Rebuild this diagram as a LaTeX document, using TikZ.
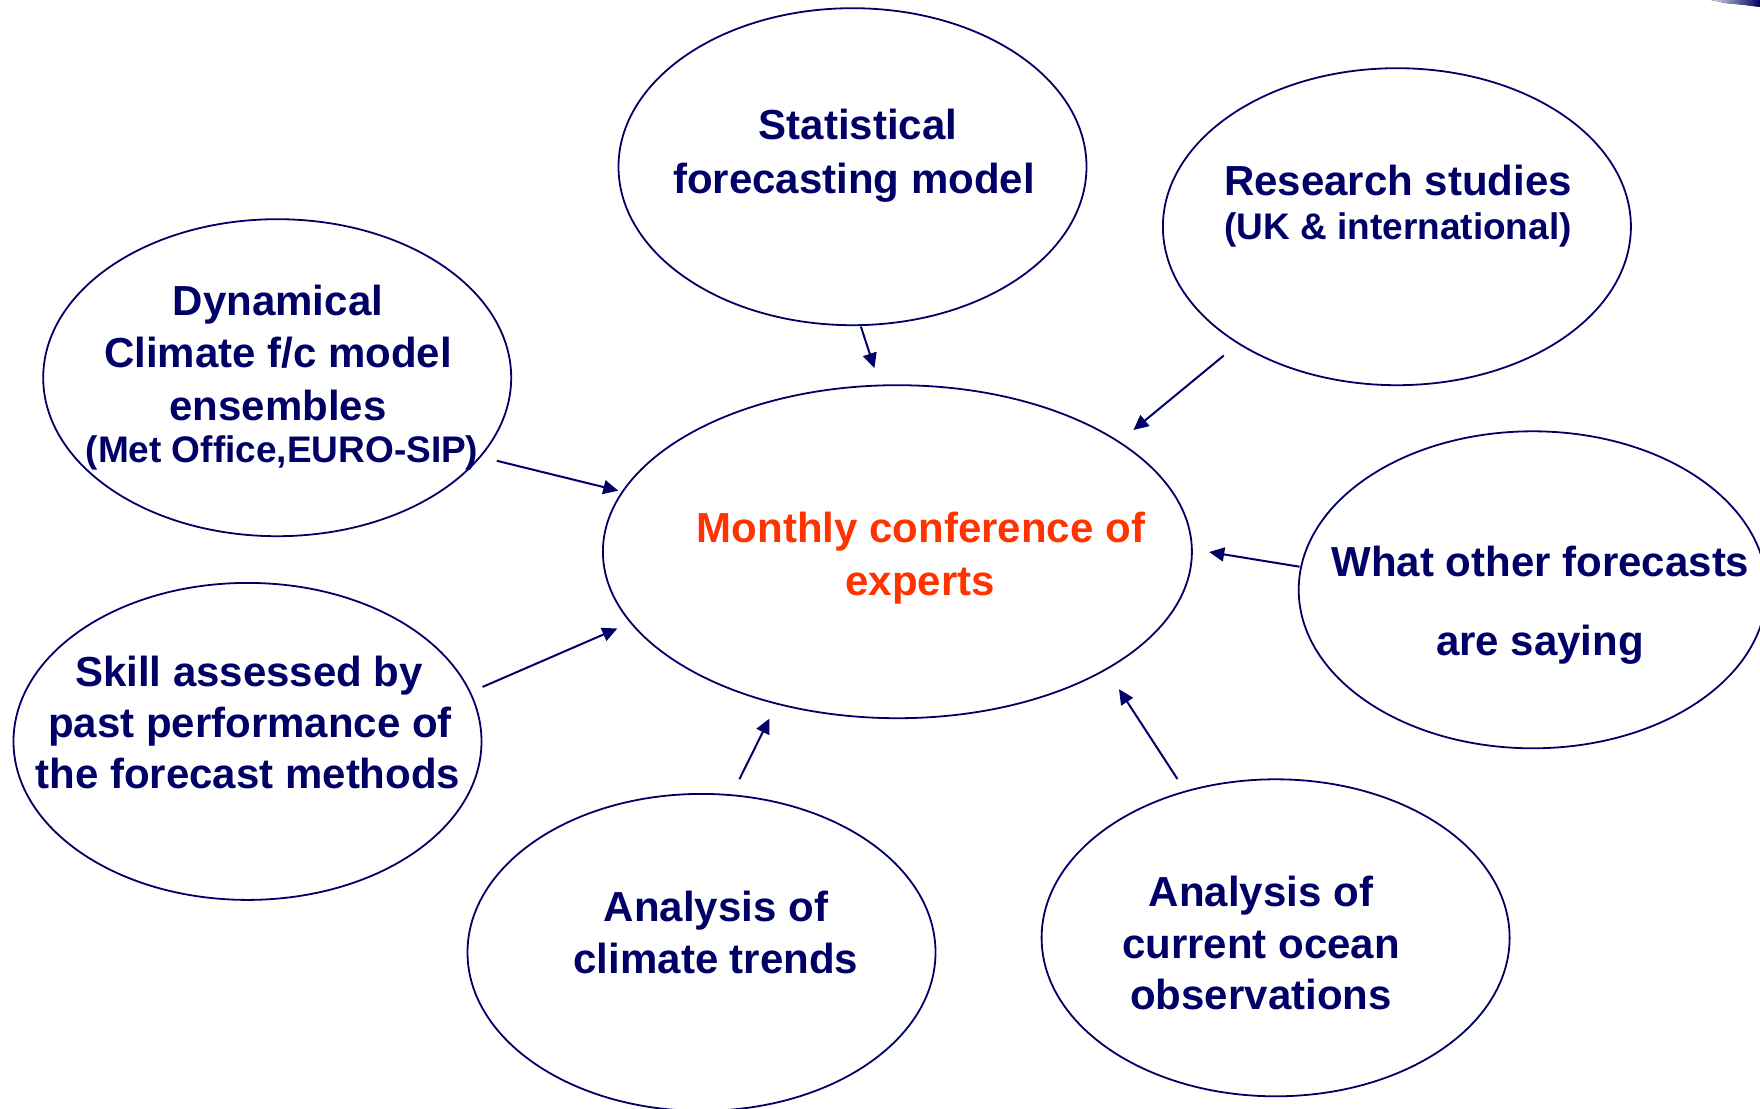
\documentclass[tikz,border=0pt]{standalone}
\usepackage{fontspec}
\setmainfont{Liberation Sans}
\usetikzlibrary{shapes.geometric,arrows.meta}
\definecolor{navy}{RGB}{0,0,102}
\definecolor{confred}{RGB}{255,51,0}
\begin{document}
\begin{tikzpicture}[x=1pt,y=-1pt,
  bubble/.style={draw=navy, line width=1.8pt, ellipse, minimum width=468pt, minimum height=317pt, inner sep=0pt},
  txt/.style={anchor=base, text=navy, font=\bfseries\fontsize{42}{50}\selectfont, inner sep=0pt},
  smalltxt/.style={txt, font=\bfseries\fontsize{37}{44}\selectfont},
  hot/.style={txt, text=confred},
  arr/.style={draw=navy, line width=2pt, -{Triangle[length=15pt,width=14pt]}}]
\useasboundingbox (0,0) rectangle (1760,1108);
\fill[white] (0,0) rectangle (1760,1108);

% decorative sliver top right
\fill[left color=navy!15, right color=navy] (1711,0) -- (1760,0) -- (1760,7) -- (1745,5) -- (1725,3) -- cycle;

% ellipses
\node[bubble] (stat) at (852.5,166.7) {};
\node[bubble] (res) at (1396.9,226.7) {};
\node[bubble] (dyn) at (277.2,377.7) {};
\node[bubble, minimum width=589pt, minimum height=333pt] (conf) at (897.4,551.7) {};
\node[bubble] (what) at (1532.7,589.8) {};
\node[bubble] (skill) at (247.5,741.4) {};
\node[bubble] (trend) at (701.5,952.4) {};
\node[bubble] (ocean) at (1275.6,937.8) {};

% texts
\node[txt] (stat1) at (858,139.3) {Statistical};
\node[txt] (stat2) at (854,193) {forecasting model};

\node[txt] (res1) at (1398,195.5) {Research studies};
\node[smalltxt] (res2) at (1398,239.3) {(UK \& international)};

\node[txt] (dyn1) at (278,315) {Dynamical};
\node[txt] (dyn2) at (278,367) {Climate f/c model};
\node[txt] (dyn3) at (278,420) {ensembles};
\node[smalltxt] (dyn4) at (282,462) {(Met Office,EURO-SIP)};

\node[hot] (conf1) at (921,542.7) {Monthly conference of};
\node[hot] (conf2) at (920,595) {experts};

\node[txt] (what1) at (1540.5,576.7) {What other forecasts};
\node[txt] (what2) at (1540,655) {are saying};

\node[txt] (skill1) at (249,686) {Skill assessed by};
\node[txt] (skill2) at (250,737) {past performance of};
\node[txt] (skill3) at (248,788) {the forecast methods};

\node[txt] (trend1) at (716,921.7) {Analysis of};
\node[txt] (trend2) at (716,973) {climate trends};

\node[txt] (ocean1) at (1261,906) {Analysis of};
\node[txt] (ocean2) at (1261,958) {current ocean};
\node[txt] (ocean3) at (1261,1009) {observations};

% arrow end points
\coordinate (sA) at (860.9,326.6);  \coordinate (eA) at (874.4,368.2);
\coordinate (sB) at (1223.8,355.5); \coordinate (eB) at (1133.4,430);
\coordinate (sC) at (496.9,460.8);  \coordinate (eC) at (618.3,490.7);
\coordinate (sD) at (482.6,686.9);  \coordinate (eD) at (617.3,628.5);
\coordinate (sE) at (739.4,779.2);  \coordinate (eE) at (769.5,718.5);
\coordinate (sF) at (1177.4,779);   \coordinate (eF) at (1119,689.2);
\coordinate (sG) at (1299.5,566.7); \coordinate (eG) at (1209.2,552);

\draw[arr] (sA) -- (eA);
\draw[arr] (sB) -- (eB);
\draw[arr] (sC) -- (eC);
\draw[arr] (sD) -- (eD);
\draw[arr] (sE) -- (eE);
\draw[arr] (sF) -- (eF);
\draw[arr] (sG) -- (eG);
\end{tikzpicture}
\end{document}
